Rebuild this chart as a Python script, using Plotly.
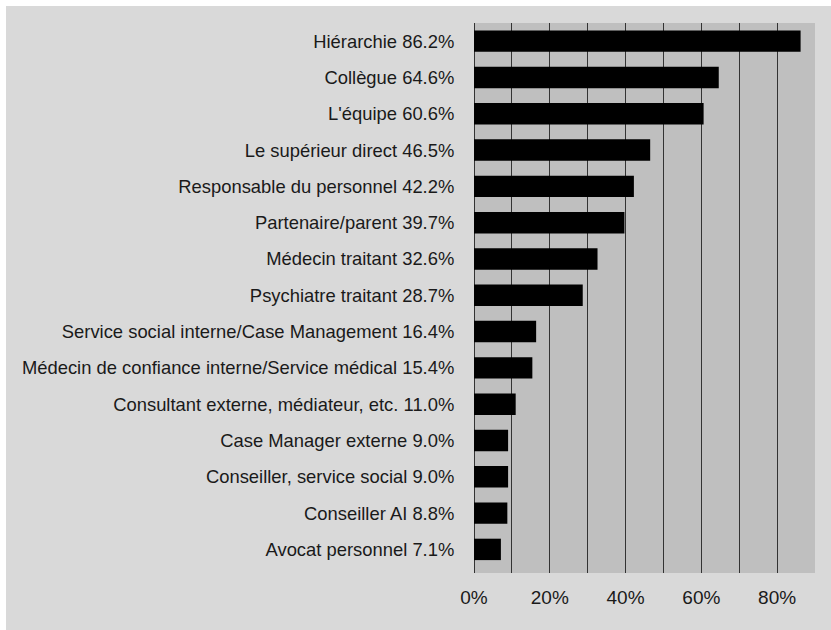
import plotly.graph_objects as go

categories = ["Hiérarchie", "Collègue", "L'équipe", "Le supérieur direct",
              "Responsable du personnel", "Partenaire/parent", "Médecin traitant",
              "Psychiatre traitant", "Service social interne/Case Management",
              "Médecin de confiance interne/Service médical",
              "Consultant externe, médiateur, etc.", "Case Manager externe",
              "Conseiller, service social", "Conseiller AI", "Avocat personnel"]
values = [86.2, 64.6, 60.6, 46.5, 42.2, 39.7, 32.6, 28.7, 16.4, 15.4, 11.0, 9.0, 9.0, 8.8, 7.1]
tick_vals = [0, 20, 40, 60, 80]
tick_text = ["0%", "20%", "40%", "60%", "80%"]
minor_grid = [10, 30, 50, 70, 90]

labels = [f"{c} {v:.1f}%" for c, v in zip(categories, values)]

FONT = "Liberation Sans, Arial, sans-serif"

fig = go.Figure(go.Bar(
    x=values, y=labels, orientation="h",
    marker=dict(color="#000000", line=dict(width=0)),
    hoverinfo="x+y",
))

L, R, T, B = 474, 16, 23, 57
W, H = 831, 630
pw, ph = W - L - R, H - T - B

fig.update_layout(
    width=W, height=H,
    margin=dict(l=L, r=R, t=T, b=B, pad=0),
    paper_bgcolor="#d9d9d9",
    plot_bgcolor="#bfbfbf",
    bargap=0.41,
    showlegend=False,
    font=dict(family=FONT, size=19, color="#1a1a1a"),
    shapes=[
        # white strip at top
        dict(type="rect", xref="paper", yref="paper", layer="above",
             x0=-L / pw - 0.01, x1=(W - L) / pw + 0.01,
             y0=(H - B - 6) / ph, y1=(H - B) / ph + 0.01,
             fillcolor="#ffffff", line=dict(width=0)),
        # white strip at left
        dict(type="rect", xref="paper", yref="paper", layer="above",
             x0=-L / pw - 0.01, x1=(6 - L) / pw,
             y0=-B / ph - 0.01, y1=(H - B) / ph + 0.01,
             fillcolor="#ffffff", line=dict(width=0)),
    ],
)
fig.update_xaxes(
    range=[0, 90], tickmode="array", tickvals=tick_vals, ticktext=tick_text,
    showgrid=True, gridcolor="#333333", gridwidth=1,
    zeroline=True, zerolinecolor="#333333", zerolinewidth=1,
    showline=False, ticks="outside", ticklen=7, tickcolor="rgba(0,0,0,0)",
    automargin=False,
    minor=dict(tickvals=minor_grid, showgrid=True,
               gridcolor="#333333", gridwidth=1, ticks=""),
)
fig.update_yaxes(
    type="category", categoryorder="array", categoryarray=labels,
    range=[14.65, -0.5], showgrid=False, zeroline=False, showline=False,
    ticks="outside", ticklen=15, tickcolor="rgba(0,0,0,0)",
    tickfont=dict(size=18.4), automargin=False,
)

fig.write_html("out.html")
